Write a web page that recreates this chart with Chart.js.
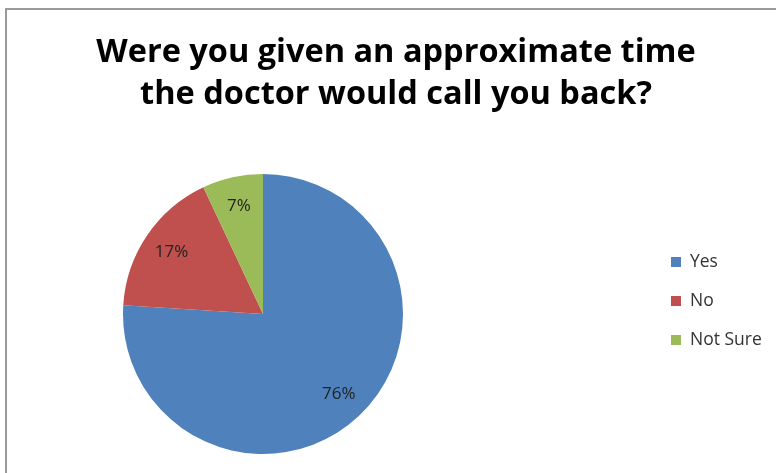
<!DOCTYPE html>
<html>
<head>
<meta charset="utf-8">
<script src="https://cdn.jsdelivr.net/npm/chart.js@4.4.1/dist/chart.umd.min.js"></script>
<style>
    html, body { margin: 0; padding: 0; background: #fff; }
    #wrap { position: relative; width: 776px; height: 473px; overflow: hidden; }
    #frame {
        position: absolute; left: 5px; top: 8px; right: -10px; bottom: -10px;
        border-top: 2px solid #9a9a9a; border-left: 2px solid #9a9a9a;
    }
    canvas { position: absolute; left: 0; top: 0; }
</style>
</head>
<body>
<div id="wrap">
    <div id="frame"></div>
    <canvas id="pie" width="776" height="473"></canvas>
</div>
<script>
// 数据
const titleLines = ['Were you given an approximate time', 'the doctor would call you back?'];
const labels = ['Yes', 'No', 'Not Sure'];
const values = [76, 17, 7];
const colors = ['#4f81bd', '#c0504d', '#9bbb59'];

// 标题：整幅画布居中（不受饼图区域 padding 影响）
const wideTitle = {
    id: 'wideTitle',
    afterDraw(chart) {
        const ctx = chart.ctx;
        ctx.save();
        ctx.font = 'bold 32.5px "Open Sans", sans-serif';
        ctx.fillStyle = '#000';
        ctx.textAlign = 'center';
        ctx.textBaseline = 'alphabetic';
        titleLines.forEach((line, i) => ctx.fillText(line, 396, 62 + i * 42));
        ctx.restore();
    },
};

// 扇区内百分比标签
const sliceLabels = {
    id: 'sliceLabels',
    afterDatasetsDraw(chart) {
        const ctx = chart.ctx;
        const meta = chart.getDatasetMeta(0);
        ctx.save();
        ctx.font = '17px "Open Sans", sans-serif';
        ctx.fillStyle = '#222';
        ctx.textAlign = 'center';
        ctx.textBaseline = 'middle';
        meta.data.forEach((arc, i) => {
            const p = arc.getProps(['x', 'y', 'startAngle', 'endAngle', 'outerRadius'], true);
            const mid = (p.startAngle + p.endAngle) / 2;
            const r = p.outerRadius * 0.79;
            ctx.fillText(values[i] + '%', p.x + Math.cos(mid) * r, p.y + Math.sin(mid) * r);
        });
        ctx.restore();
    },
};

// 右侧图例
const sideLegend = {
    id: 'sideLegend',
    afterDraw(chart) {
        const ctx = chart.ctx;
        const ds = chart.data.datasets[0];
        ctx.save();
        ctx.font = '17.5px "Open Sans", sans-serif';
        ctx.textBaseline = 'middle';
        chart.data.labels.forEach((lab, i) => {
            const y = 262 + i * 39;
            ctx.fillStyle = ds.backgroundColor[i];
            ctx.fillRect(671, y - 5, 10, 10);
            ctx.fillStyle = '#333';
            ctx.fillText(lab, 690, y);
        });
        ctx.restore();
    },
};

new Chart(document.getElementById('pie'), {
    type: 'pie',
    data: {
        labels,
        datasets: [{
            data: values,
            backgroundColor: colors,
            borderWidth: 0,
        }],
    },
    options: {
        responsive: false,
        animation: false,
        layout: { padding: { left: 0, right: 250, top: 174, bottom: 19 } },
        plugins: {
            legend: { display: false },
            tooltip: { enabled: false },
            title: { display: false },
        },
    },
    plugins: [wideTitle, sliceLabels, sideLegend],
});
</script>
</body>
</html>
